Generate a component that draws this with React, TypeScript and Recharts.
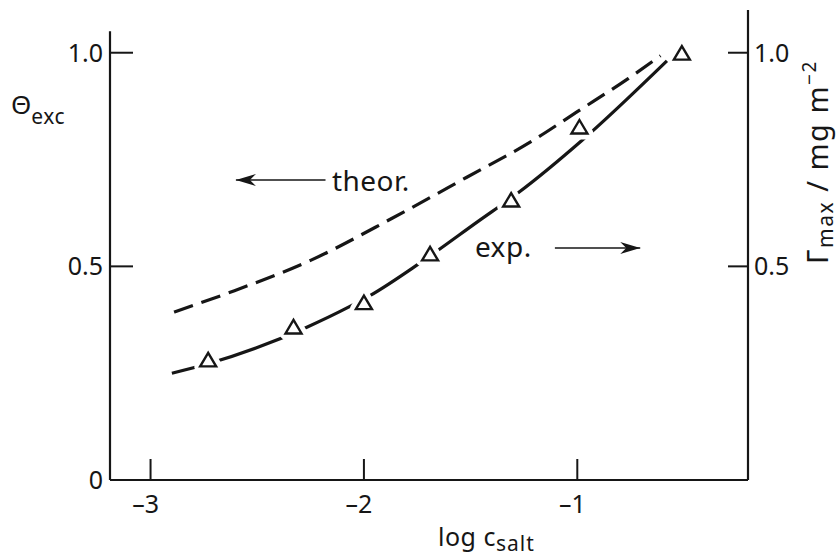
import React from 'react';
import {
  ComposedChart,
  Line,
  Scatter,
  XAxis,
  YAxis,
  ReferenceLine,
  ReferenceDot,
  Label,
} from 'recharts';

// ---- data ----
const theorX = [-2.89, -2.64, -2.25, -1.87, -1.52, -1.21, -1.0, -0.76, -0.61];
const theorY = [0.393, 0.437, 0.514, 0.612, 0.708, 0.794, 0.862, 0.94, 0.993];

const expCurveX = [-2.9, -2.73, -2.5, -2.27, -2.07, -1.97, -1.74, -1.46, -1.28, -0.98, -0.58];
const expCurveY = [0.25, 0.272, 0.31, 0.357, 0.405, 0.432, 0.507, 0.607, 0.671, 0.794, 0.981];

const expPointX = [-2.73, -2.33, -2.0, -1.69, -1.31, -0.99, -0.51];
const expPointY = [0.28, 0.357, 0.414, 0.528, 0.654, 0.825, 0.998];

const xTicks = [-3, -2, -1];
const xTickLabels = ['\u20133', '\u20132', '\u20131'];
const leftTicks = [0, 0.5, 1.0];
const leftTickLabels = ['0', '0.5', '1.0'];
const rightTicks = [0.5, 1.0];
const rightTickLabels = ['0.5', '1.0'];

const X_DOMAIN: [number, number] = [-3.19, -0.2];
const Y_DOMAIN: [number, number] = [0, 1.1];
const LEFT_AXIS_TOP = 1.05;

// annotation anchors (data coordinates)
const theorArrow = { x1: -2.6, x2: -2.18, y: 0.702 };
const theorText = { x: -2.15, y: 0.698, text: 'theor.' };
const expArrow = { x1: -1.105, x2: -0.705, y: 0.543 };
const expText = { x: -1.48, y: 0.543, text: 'exp.' };

const theorData = theorX.map((x, i) => ({ x, y: theorY[i] }));
const expCurveData = expCurveX.map((x, i) => ({ x, y: expCurveY[i] }));
const expPointData = expPointX.map((x, i) => ({ x, y: expPointY[i] }));

const INK = '#161616';
const FONT = "'Noto Sans', 'DejaVu Sans', sans-serif";

function labelFor(values: number[], labels: string[], v: number) {
  const i = values.findIndex((t) => Math.abs(t - v) < 1e-9);
  return i >= 0 ? labels[i] : String(v);
}

function XTick(props: any) {
  const { x, y, payload } = props;
  return (
    <g>
      <line x1={x} x2={x} y1={y} y2={y - 21} stroke={INK} strokeWidth={2} />
      <text x={x - 5} y={y + 33} textAnchor="middle" fontSize={25} fontFamily={FONT} fill={INK}>
        {labelFor(xTicks, xTickLabels, payload.value)}
      </text>
    </g>
  );
}

function LeftTick(props: any) {
  const { x, y, payload } = props;
  const v = payload.value;
  return (
    <g>
      {v !== 0 && <line x1={x} x2={x + 23} y1={y} y2={y} stroke={INK} strokeWidth={2} />}
      <text x={x - 7} y={y + 9} textAnchor="end" fontSize={25} fontFamily={FONT} fill={INK}>
        {labelFor(leftTicks, leftTickLabels, v)}
      </text>
    </g>
  );
}

function RightTick(props: any) {
  const { x, y, payload } = props;
  return (
    <g>
      <line x1={x - 20} x2={x} y1={y} y2={y} stroke={INK} strokeWidth={2} />
      <text x={x + 6} y={y + 9} textAnchor="start" fontSize={25} fontFamily={FONT} fill={INK}>
        {labelFor(rightTicks, rightTickLabels, payload.value)}
      </text>
    </g>
  );
}

function ThetaLabel(props: any) {
  const vb = props.viewBox || { x: 50, y: 10 };
  return (
    <text x={vb.x - 39} y={vb.y + 104} fontFamily={FONT} fill={INK} fontSize={26}>
      {'\u0398'}
      <tspan fontSize={21} dy={10} letterSpacing={0.5}>exc</tspan>
    </text>
  );
}

function GammaLabel(props: any) {
  const vb = props.viewBox || { x: 748, y: 10 };
  const cx = vb.x + 80;
  const cy = vb.y + 152;
  return (
    <text
      x={cx}
      y={cy}
      textAnchor="middle"
      fontFamily={FONT}
      fill={INK}
      fontSize={29}
      letterSpacing={1.5}
      transform={`rotate(-90, ${cx}, ${cy})`}
    >
      {'\u0393'}
      <tspan fontSize={21} dy={5}>max</tspan>
      <tspan fontSize={29} dy={-5}>{' / mg m'}</tspan>
      <tspan fontSize={19} dy={-12}>{'\u22122'}</tspan>
    </text>
  );
}

function XAxisLabel(props: any) {
  const vb = props.viewBox || { x: 110, y: 480 };
  return (
    <text x={vb.x + 328} y={vb.y + 66} fontFamily={FONT} fill={INK} fontSize={25} letterSpacing={0.5}>
      {'log  c'}
      <tspan fontSize={21} dy={5} letterSpacing={1}>salt</tspan>
    </text>
  );
}

function Triangle(props: any) {
  const { cx, cy } = props;
  if (cx == null || cy == null) return null;
  const pts = `${cx},${cy - 7.5} ${cx - 8},${cy + 6} ${cx + 8},${cy + 6}`;
  return (
    <g>
      <polygon points={pts} fill="#fff" stroke="#fff" strokeWidth={12} strokeLinejoin="round" />
      <polygon points={pts} fill="#fff" stroke={INK} strokeWidth={2.4} strokeLinejoin="miter" />
    </g>
  );
}

function LeftHead(props: any) {
  const { cx, cy } = props;
  return <polygon points={`${cx},${cy} ${cx + 20},${cy - 6} ${cx + 14},${cy} ${cx + 20},${cy + 6}`} fill={INK} />;
}

function RightHead(props: any) {
  const { cx, cy } = props;
  return <polygon points={`${cx},${cy} ${cx - 20},${cy - 6} ${cx - 14},${cy} ${cx - 20},${cy + 6}`} fill={INK} />;
}

function makeText(text: string) {
  return (props: any) => {
    const { cx, cy } = props;
    return (
      <text x={cx} y={cy} dy={9} fontFamily={FONT} fontSize={28} fill={INK} textAnchor="start" letterSpacing={0.5}>
        {text}
      </text>
    );
  };
}

export default function App() {
  return (
    <div style={{ position: 'absolute', left: 0, top: 0, background: '#fff' }}>
      <ComposedChart
        width={839}
        height={558}
        margin={{ top: 10, right: 31, bottom: 38, left: 50 }}
        style={{ background: '#fff' }}
      >
        <XAxis
          xAxisId="x"
          type="number"
          dataKey="x"
          domain={X_DOMAIN}
          ticks={xTicks}
          allowDataOverflow
          height={40}
          tickSize={0}
          tickMargin={0}
          tickLine={false}
          axisLine={{ stroke: INK, strokeWidth: 2.2 }}
          tick={<XTick />}
          interval={0}
        >
          <Label content={<XAxisLabel />} />
        </XAxis>
        <YAxis
          yAxisId="left"
          orientation="left"
          type="number"
          domain={Y_DOMAIN}
          ticks={leftTicks}
          allowDataOverflow
          width={60}
          tickSize={0}
          tickMargin={0}
          tickLine={false}
          axisLine={false}
          tick={<LeftTick />}
          interval={0}
        >
          <Label content={<ThetaLabel />} />
        </YAxis>
        <YAxis
          yAxisId="right"
          orientation="right"
          type="number"
          domain={Y_DOMAIN}
          ticks={rightTicks}
          allowDataOverflow
          width={60}
          tickSize={0}
          tickMargin={0}
          tickLine={false}
          axisLine={{ stroke: INK, strokeWidth: 2.2 }}
          tick={<RightTick />}
          interval={0}
        >
          <Label content={<GammaLabel />} />
        </YAxis>

        <ReferenceLine
          xAxisId="x"
          yAxisId="left"
          segment={[
            { x: X_DOMAIN[0], y: 0 },
            { x: X_DOMAIN[0], y: LEFT_AXIS_TOP },
          ]}
          stroke={INK}
          strokeWidth={2.2}
          ifOverflow="visible"
        />

        <Line
          xAxisId="x"
          yAxisId="left"
          data={theorData}
          dataKey="y"
          type="monotone"
          stroke={INK}
          strokeWidth={3.2}
          strokeDasharray="20 9"
          dot={false}
          activeDot={false}
          isAnimationActive={false}
        />
        <Line
          xAxisId="x"
          yAxisId="left"
          data={expCurveData}
          dataKey="y"
          type="monotone"
          stroke={INK}
          strokeWidth={3.2}
          dot={false}
          activeDot={false}
          isAnimationActive={false}
        />
        <Scatter
          xAxisId="x"
          yAxisId="left"
          data={expPointData}
          dataKey="y"
          shape={<Triangle />}
          isAnimationActive={false}
        />

        <ReferenceLine
          xAxisId="x"
          yAxisId="left"
          segment={[
            { x: theorArrow.x1, y: theorArrow.y },
            { x: theorArrow.x2, y: theorArrow.y },
          ]}
          stroke={INK}
          strokeWidth={1.6}
        />
        <ReferenceDot xAxisId="x" yAxisId="left" x={theorArrow.x1} y={theorArrow.y} r={1} shape={<LeftHead />} />
        <ReferenceDot xAxisId="x" yAxisId="left" x={theorText.x} y={theorText.y} r={1} shape={makeText(theorText.text)} />

        <ReferenceLine
          xAxisId="x"
          yAxisId="left"
          segment={[
            { x: expArrow.x1, y: expArrow.y },
            { x: expArrow.x2, y: expArrow.y },
          ]}
          stroke={INK}
          strokeWidth={1.6}
        />
        <ReferenceDot xAxisId="x" yAxisId="left" x={expArrow.x2} y={expArrow.y} r={1} shape={<RightHead />} />
        <ReferenceDot xAxisId="x" yAxisId="left" x={expText.x} y={expText.y} r={1} shape={makeText(expText.text)} />
      </ComposedChart>
    </div>
  );
}
